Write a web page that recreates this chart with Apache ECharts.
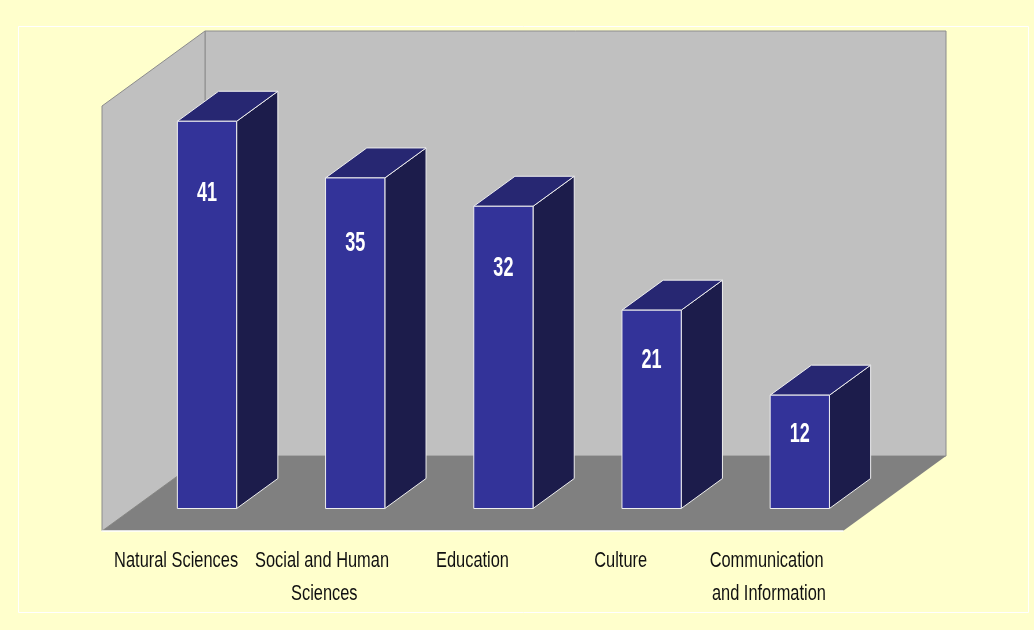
<!DOCTYPE html>
<html>
<head>
<meta charset="utf-8">
<script src="https://cdn.jsdelivr.net/npm/echarts/dist/echarts.min.js"></script>
<style>
  html, body { margin: 0; padding: 0; background: #ffffcc; }
  #main { width: 1034px; height: 630px; }
</style>
</head>
<body>
<div id="main"></div>
<script>
const categories = ['Natural Sciences', 'Social and Human Sciences', 'Education', 'Culture', 'Communication and Information']
const values = [41, 35, 32, 21, 12]
const valueMax = 45

// oblique depth of the floor, and where the bars sit inside it
const depthX = 103
const depthY = -75
const barFront = 0.3
const barBack = 0.7
// no narrow font installed, so squeeze a regular one
const squeeze = 0.82
const font = '"Liberation Sans", Arial, sans-serif'

const chart = echarts.init(document.getElementById('main'))

function renderWalls(params, api) {
  const cs = params.coordSys
  const x0 = cs.x, x1 = cs.x + cs.width
  const yt = cs.y, yb = cs.y + cs.height
  const edge = { stroke: '#8c8c8c', lineWidth: 1 }
  return {
    type: 'group',
    children: [
      {
        type: 'polygon',
        shape: { points: [[x0 + depthX, yt + depthY], [x1 + depthX, yt + depthY], [x1 + depthX, yb + depthY], [x0 + depthX, yb + depthY]] },
        style: Object.assign({ fill: '#c0c0c0' }, edge)
      },
      {
        type: 'polygon',
        shape: { points: [[x0, yb], [x0, yt], [x0 + depthX, yt + depthY], [x0 + depthX, yb + depthY]] },
        style: Object.assign({ fill: '#c0c0c0' }, edge)
      },
      {
        type: 'polygon',
        shape: { points: [[x0, yb], [x1, yb], [x1 + depthX, yb + depthY], [x0 + depthX, yb + depthY]] },
        style: { fill: '#808080' }
      }
    ]
  }
}

function renderBar(params, api) {
  const i = api.value(0)
  const v = api.value(1)
  const base = api.coord([i, 0])
  const top = api.coord([i, v])
  const band = api.size([1, 0])[0]
  const w = band * 0.4
  const fx0 = base[0] - w / 2 + depthX * barFront
  const fx1 = fx0 + w
  const fyb = base[1] + depthY * barFront
  const fyt = top[1] + depthY * barFront
  const bx = depthX * (barBack - barFront)
  const by = depthY * (barBack - barFront)
  const h = fyb - fyt
  const line = { stroke: '#eeeeee', lineWidth: 1 }
  return {
    type: 'group',
    children: [
      {
        type: 'polygon',
        shape: { points: [[fx1, fyt], [fx1 + bx, fyt + by], [fx1 + bx, fyb + by], [fx1, fyb]] },
        style: Object.assign({ fill: '#1c1c4b' }, line)
      },
      {
        type: 'polygon',
        shape: { points: [[fx0, fyt], [fx0 + bx, fyt + by], [fx1 + bx, fyt + by], [fx1, fyt]] },
        style: Object.assign({ fill: '#272772' }, line)
      },
      {
        type: 'rect',
        shape: { x: fx0, y: fyt, width: w, height: h },
        style: Object.assign({ fill: '#333399' }, line)
      },
      {
        type: 'text',
        x: (fx0 + fx1) / 2,
        y: fyt + 26 + h * 0.12,
        scaleX: squeeze,
        scaleY: 1.25,
        style: {
          text: String(v),
          fill: '#ffffff',
          font: 'bold 22px ' + font,
          align: 'center',
          verticalAlign: 'middle'
        }
      },
      {
        // category name under the floor edge
        type: 'text',
        x: base[0],
        y: base[1] + 13,
        scaleX: squeeze,
        scaleY: 1.1,
        style: {
          text: categories[i],
          fill: '#111111',
          font: '20px ' + font,
          lineHeight: 30,
          width: (band - 6) / squeeze,
          overflow: 'break',
          align: 'center',
          verticalAlign: 'top'
        }
      }
    ]
  }
}

const option = {
  backgroundColor: '#ffffcc',
  animation: false,
  graphic: [
    {
      type: 'rect',
      shape: { x: 18.5, y: 26.5, width: 1010, height: 586 },
      style: { fill: 'none', stroke: '#ffffff', lineWidth: 1 },
      silent: true
    }
  ],
  grid: { left: 102, right: 191, top: 106, bottom: 99, containLabel: false, outerBoundsMode: 'none' },
  xAxis: {
    type: 'category',
    data: categories,
    zlevel: 1,
    axisLine: { lineStyle: { color: '#ffffff', width: 1.5 } },
    axisTick: { length: 6, lineStyle: { color: '#ffffff' } },
    axisLabel: { show: false }
  },
  yAxis: {
    type: 'value',
    min: 0,
    max: valueMax,
    show: false,
    splitLine: { show: false }
  },
  series: [
    {
      type: 'custom',
      silent: true,
      z: 1,
      data: [[0, 0]],
      renderItem: renderWalls
    },
    {
      type: 'custom',
      z: 3,
      clip: false,
      data: values.map((v, i) => [i, v]),
      encode: { x: 0, y: 1 },
      renderItem: renderBar
    }
  ]
}

chart.setOption(option)
</script>
</body>
</html>
